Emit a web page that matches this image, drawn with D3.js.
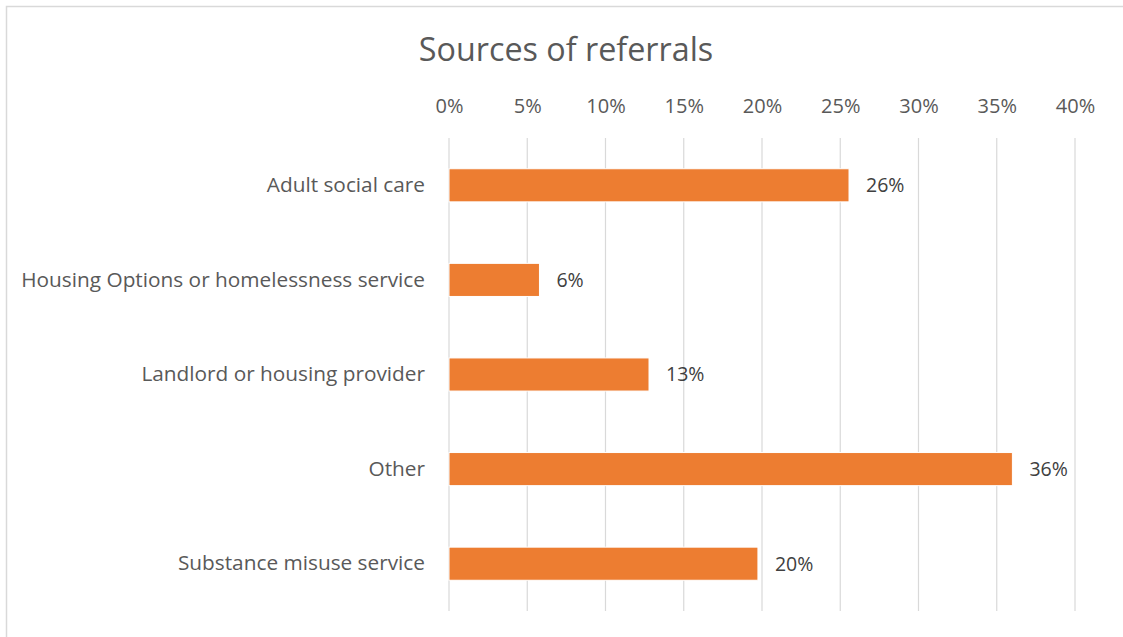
<!DOCTYPE html>
<html>
<head>
<meta charset="utf-8">
<script src="https://cdn.jsdelivr.net/npm/d3@7"></script>
<style>
  html, body { margin: 0; padding: 0; background: #fff; }
  svg { display: block; }
  text { font-family: "Open Sans", Lato, sans-serif; }
</style>
</head>
<body>
<svg id="chart" width="1123" height="637"></svg>
<script>
// Referral sources and their share of all referrals
const categories = [
  "Adult social care",
  "Housing Options or homelessness service",
  "Landlord or housing provider",
  "Other",
  "Substance misuse service"
];
const shares = [0.2556, 0.0578, 0.1278, 0.3600, 0.1974];
const tickValues = [0, 0.05, 0.10, 0.15, 0.20, 0.25, 0.30, 0.35, 0.40];
const title = "Sources of referrals";

const data = categories.map((c, i) => ({ category: c, value: shares[i] }));

const svg = d3.select("#chart");
const W = 1123, H = 637;
const margin = { top: 138, right: 48, bottom: 26, left: 449 };

// chart frame
svg.append("rect")
  .attr("x", 6.5).attr("y", 6.5)
  .attr("width", W + 20).attr("height", H + 20)
  .attr("fill", "#fff")
  .attr("stroke", "#d9d9d9")
  .attr("stroke-width", 1.5);

const x = d3.scaleLinear()
  .domain([0, 0.40])
  .range([margin.left, W - margin.right]);

const y = d3.scaleBand()
  .domain(categories)
  .range([margin.top, H - margin.bottom])
  .paddingInner(0.65)
  .paddingOuter(0.325);

// vertical gridlines
svg.append("g")
  .selectAll("line")
  .data(tickValues)
  .join("line")
  .attr("x1", d => x(d)).attr("x2", d => x(d))
  .attr("y1", margin.top).attr("y2", H - margin.bottom)
  .attr("stroke", "#d9d9d9")
  .attr("stroke-width", 1.2);

// top value axis
const xAxis = d3.axisTop(x)
  .tickValues(tickValues)
  .tickFormat(d3.format(".0%"))
  .tickSize(0)
  .tickPadding(0);
const gx = svg.append("g")
  .attr("transform", `translate(0, 113)`)
  .call(xAxis);
gx.select(".domain").remove();
gx.selectAll("text")
  .attr("fill", "#595959")
  .attr("font-size", 20)
  .attr("dy", 0);

// category axis
const yAxis = d3.axisLeft(y).tickSize(0).tickPadding(24);
const gy = svg.append("g")
  .attr("transform", `translate(${margin.left}, 0)`)
  .call(yAxis);
gy.select(".domain").remove();
gy.selectAll("text")
  .attr("fill", "#595959")
  .attr("font-size", 20.8);

// bars
svg.append("g")
  .selectAll("rect")
  .data(data)
  .join("rect")
  .attr("x", x(0))
  .attr("y", d => y(d.category))
  .attr("width", d => x(d.value) - x(0))
  .attr("height", y.bandwidth())
  .attr("fill", "#ed7d31")
  .attr("stroke", "#fff")
  .attr("stroke-width", 1);

// data labels
svg.append("g")
  .selectAll("text")
  .data(data)
  .join("text")
  .attr("x", d => x(d.value) + 17)
  .attr("y", d => y(d.category) + y.bandwidth() / 2)
  .attr("dy", "0.35em")
  .attr("fill", "#404040")
  .attr("font-size", 19.5)
  .text(d => d3.format(".0%")(d.value));

// title
svg.append("text")
  .attr("x", 566)
  .attr("y", 61)
  .attr("text-anchor", "middle")
  .attr("fill", "#595959")
  .attr("font-size", 32.3)
  .text(title);
</script>
</body>
</html>
